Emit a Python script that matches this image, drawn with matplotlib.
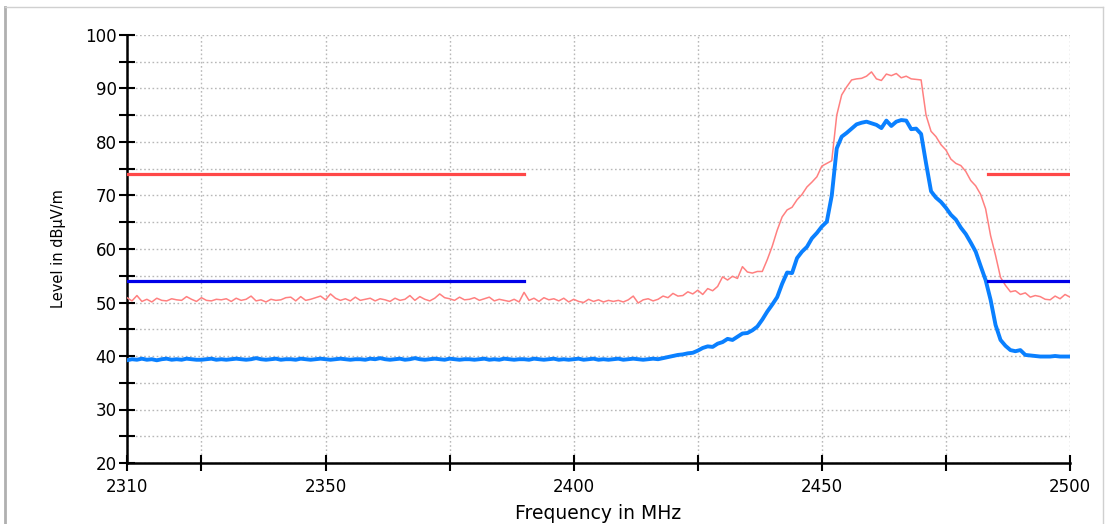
#Importing libraries
import numpy as np
import matplotlib.pyplot as plt
from matplotlib.lines import Line2D

#frequency axis of the sweep, 1 MHz steps
freq = np.arange(2310, 2501)

#peak detector trace (dBuV/m)
peak = [50.9, 50.3, 51.3, 50.2, 50.6, 50.1, 50.8, 50.4, 50.3, 50.7,
        50.5, 50.4, 51.1, 50.6, 50.2, 50.9, 50.4, 50.3, 50.6, 50.5,
        50.7, 50.2, 50.8, 50.4, 50.6, 51.2, 50.3, 50.5, 50.1, 50.6,
        50.4, 50.5, 50.9, 51.0, 50.3, 51.1, 50.4, 50.6, 50.9, 51.2,
        50.5, 51.6, 50.8, 50.4, 50.7, 50.3, 51.0, 50.4, 50.6, 50.8,
        50.3, 50.7, 50.5, 50.2, 50.8, 50.4, 50.6, 51.3, 50.4, 51.1,
        50.6, 50.3, 50.8, 51.6, 50.9, 50.7, 50.4, 51.0, 50.5, 50.6,
        50.9, 50.4, 50.7, 51.0, 50.3, 50.6, 50.4, 50.2, 50.6, 50.1,
        51.9, 50.4, 50.8, 50.2, 50.9, 50.5, 50.7, 50.3, 50.8, 50.1,
        50.6, 50.2, 50.0, 50.6, 50.2, 50.5, 50.1, 50.4, 50.2, 50.4,
        50.1, 50.5, 51.2, 49.9, 50.5, 50.7, 50.3, 50.6, 51.2, 50.9,
        51.7, 51.2, 51.3, 52.0, 51.6, 52.3, 51.5, 52.6, 52.2, 53.0,
        54.8, 54.2, 54.9, 54.5, 56.7, 55.7, 55.5, 55.8, 55.8, 58.0,
        60.5, 63.5, 66.0, 67.3, 67.8, 69.2, 70.2, 71.6, 72.5, 73.5,
        75.5, 76.0, 76.5, 85.0, 88.8, 90.3, 91.6, 91.8, 91.9, 92.3,
        93.1, 91.8, 91.5, 92.7, 92.4, 92.8, 92.0, 92.3, 91.8, 91.7,
        91.6, 85.0, 82.0, 81.0, 79.5, 78.5, 76.8, 76.0, 75.6, 74.5,
        72.8, 71.8, 70.2, 67.5, 62.5, 58.8, 54.7, 53.2, 52.0, 52.2,
        51.5, 51.8, 51.0, 51.3, 51.1, 50.6, 50.5, 51.2, 50.7, 51.5,
        51.0]

#average detector trace (dBuV/m)
avg = [39.2, 39.4, 39.3, 39.5, 39.3, 39.4, 39.2, 39.4, 39.5, 39.3,
       39.4, 39.3, 39.5, 39.4, 39.3, 39.3, 39.4, 39.5, 39.3, 39.4,
       39.3, 39.4, 39.5, 39.4, 39.3, 39.4, 39.6, 39.4, 39.3, 39.4,
       39.5, 39.3, 39.4, 39.4, 39.3, 39.5, 39.4, 39.3, 39.4, 39.5,
       39.4, 39.3, 39.4, 39.5, 39.4, 39.3, 39.4, 39.4, 39.3, 39.5,
       39.4, 39.6, 39.4, 39.3, 39.4, 39.5, 39.3, 39.4, 39.6, 39.4,
       39.3, 39.4, 39.5, 39.4, 39.3, 39.5, 39.4, 39.3, 39.4, 39.4,
       39.3, 39.4, 39.5, 39.3, 39.4, 39.3, 39.5, 39.4, 39.3, 39.4,
       39.4, 39.3, 39.5, 39.4, 39.3, 39.4, 39.5, 39.3, 39.4, 39.3,
       39.4, 39.5, 39.3, 39.4, 39.5, 39.3, 39.4, 39.3, 39.4, 39.5,
       39.3, 39.4, 39.5, 39.4, 39.3, 39.4, 39.5, 39.4, 39.6, 39.8,
       40.0, 40.2, 40.3, 40.5, 40.6, 41.0, 41.5, 41.8, 41.7, 42.3,
       42.6, 43.2, 43.0, 43.6, 44.2, 44.3, 44.8, 45.5, 46.8, 48.3,
       49.6, 51.0, 53.5, 55.6, 55.5, 58.3, 59.5, 60.4, 62.0, 63.0,
       64.2, 65.1, 70.0, 78.8, 81.0, 81.7, 82.5, 83.3, 83.6, 83.8,
       83.5, 83.2, 82.6, 84.0, 83.0, 83.8, 84.1, 84.0, 82.4, 82.5,
       81.5, 76.0, 70.8, 69.6, 68.8, 67.7, 66.4, 65.5, 64.0, 62.8,
       61.2, 59.5, 56.8, 54.2, 50.5, 45.8, 43.0, 41.9, 41.1, 40.9,
       41.1, 40.2, 40.1, 40.0, 39.9, 39.9, 39.9, 40.0, 39.9, 39.9,
       39.9]

#limit lines: (start MHz, end MHz)
limit_spans = [(2310, 2390), (2483.5, 2500)]
peak_limit = 74
avg_limit = 54

#x ticks and labels
xticks = [2310, 2325, 2350, 2375, 2400, 2425, 2450, 2475, 2500]
xlabels = ['2310', '', '2350', '', '2400', '', '2450', '', '2500']
yticks = [20, 30, 40, 50, 60, 70, 80, 90, 100]
yticks_minor = [25, 35, 45, 55, 65, 75, 85, 95]

fig = plt.figure(figsize=(11.08, 5.24), dpi=100)
ax = fig.add_axes([127/1108, 1-463/524, (1070-127)/1108, (463-35)/524])

#plotting traces
ax.plot(freq, peak, color='#ff8080', lw=1.1, zorder=3)
ax.plot(freq, avg, color='#0a80ff', lw=2.8, zorder=4)
for a, b in limit_spans:
    ax.plot([a, b], [peak_limit, peak_limit], color='#ff4848', lw=2.3, zorder=5)
    ax.plot([a, b], [avg_limit, avg_limit], color='#0000e8', lw=2.3, zorder=5)

ax.set_xlim(2310, 2500)
ax.set_ylim(20, 100)
ax.set_xticks(xticks)
ax.set_xticklabels(xlabels)
ax.set_yticks(yticks)
ax.set_yticks(yticks_minor, minor=True)
ax.tick_params(which='both', direction='inout', length=11, width=1.5, labelsize=12, pad=5)
ax.tick_params(axis='y', which='both', pad=2)
ax.grid(True, which='both', color='#b8b8b8', linestyle=(0, (1.2, 1.8)), lw=1)
for s in ['top', 'right']:
    ax.spines[s].set_visible(False)
for s in ['left', 'bottom']:
    ax.spines[s].set_linewidth(1.8)

ax.set_ylabel('Level in dBµV/m', fontsize=10.5, labelpad=14)
ax.set_xlabel('Frequency in MHz', fontsize=13.5, labelpad=6)

#grey frame of the screenshot
fig.add_artist(Line2D([5/1108, 5/1108], [0, 1-7/524], color='#b0b0b0', lw=2, transform=fig.transFigure))
fig.add_artist(Line2D([5/1108, 1103/1108], [1-7/524, 1-7/524], color='#d0d0d0', lw=1, transform=fig.transFigure))
fig.add_artist(Line2D([1103/1108, 1103/1108], [0, 1-7/524], color='#d0d0d0', lw=1, transform=fig.transFigure))

plt.savefig('out.png', dpi=100)
